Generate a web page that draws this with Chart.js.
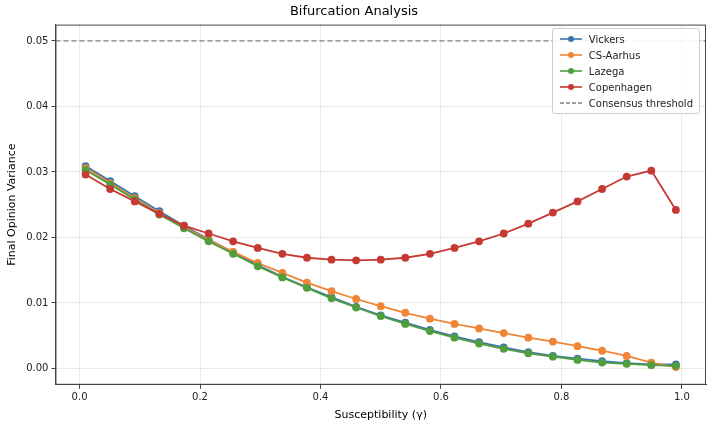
<!DOCTYPE html>
<html>
<head>
<meta charset="utf-8">
<script src="https://cdn.jsdelivr.net/npm/chart.js@4/dist/chart.umd.min.js"></script>
<style>
  body { margin: 0; background: #fff; font-family: "DejaVu Sans", sans-serif; }
  #wrap { position: relative; width: 712px; height: 424px; }
  #legend { position: absolute; right: 12px; top: 28px; background: rgba(255,255,255,0.9);
    border: 1px solid #ccc; border-radius: 3px; padding: 2px 6px; font-size: 10px; color: #222; }
  #legend div { display: flex; align-items: center; height: 16px; }
  #legend svg { margin-right: 6px; }
</style>
</head>
<body>
<div id="wrap"><canvas id="c" width="712" height="424"></canvas><div id="legend"></div></div>
<script>
// susceptibility grid (25 points)
const gammas = [0.01,0.0508,0.0917,0.1325,0.1733,0.2142,0.255,0.2958,0.3367,0.3775,0.4183,0.4592,0.5,
  0.5408,0.5817,0.6225,0.6633,0.7042,0.745,0.7858,0.8267,0.8675,0.9083,0.9492,0.99];
const vickers = [0.0309,0.0286,0.0263,0.0240,0.0218,0.0197,0.0177,0.0158,0.0140,0.0124,0.0109,0.0094,0.0081,
  0.0070,0.0059,0.0049,0.0040,0.0032,0.0025,0.0019,0.0015,0.0011,0.0008,0.0006,0.0006];
const csAarhus = [0.0306,0.0283,0.0260,0.0237,0.0216,0.0196,0.0178,0.0161,0.0146,0.0131,0.0118,0.0106,0.0095,
  0.0085,0.0076,0.0068,0.0061,0.0054,0.0047,0.0041,0.0034,0.0027,0.0019,0.0009,0.0002];
const lazega = [0.0303,0.0281,0.0258,0.0235,0.0214,0.0194,0.0175,0.0156,0.0139,0.0123,0.0107,0.0093,0.0080,
  0.0068,0.0057,0.0047,0.0038,0.0030,0.0023,0.0018,0.0013,0.0009,0.0007,0.0005,0.0004];
const copenhagen = [0.0296,0.0274,0.0255,0.0236,0.0218,0.0206,0.0194,0.0184,0.0175,0.0169,0.0166,0.0165,0.0166,
  0.0169,0.0175,0.0184,0.0194,0.0206,0.0221,0.0238,0.0255,0.0274,0.0293,0.0302,0.0242];
const threshold = 0.05;

const series = [
  { label: 'Vickers', data: vickers, color: '#3b75af' },
  { label: 'CS-Aarhus', data: csAarhus, color: '#ef8636' },
  { label: 'Lazega', data: lazega, color: '#519e3e' },
  { label: 'Copenhagen', data: copenhagen, color: '#c53a32' }
];

// later series on top, like matplotlib
const datasets = series.map((s, k) => ({
  label: s.label,
  data: gammas.map((g, i) => ({ x: g, y: s.data[i] })),
  borderColor: s.color, backgroundColor: s.color,
  borderWidth: 1.8, pointRadius: 3, pointHoverRadius: 3, order: 10 - k
}));
datasets.push({
  label: 'Consensus threshold',
  data: [{ x: -0.04, y: threshold }, { x: 1.04, y: threshold }],
  borderColor: '#808080', borderWidth: 1.2, borderDash: [5, 3], pointRadius: 0, order: 1
});

const frame = {
  id: 'frame',
  afterDraw(chart) {
    const { ctx, chartArea: a } = chart;
    ctx.save();
    ctx.strokeStyle = '#444';
    ctx.lineWidth = 1;
    ctx.strokeRect(a.left + 0.5, a.top + 0.5, a.right - a.left - 1, a.bottom - a.top - 1);
    ctx.restore();
  }
};

const font = { family: '"DejaVu Sans", sans-serif', size: 10 };
new Chart(document.getElementById('c'), {
  type: 'line',
  data: { datasets },
  plugins: [frame],
  options: {
    responsive: false, animation: false,
    layout: { padding: { left: 2, right: 6, top: 0, bottom: 0 } },
    plugins: {
      legend: { display: false },
      tooltip: { enabled: false },
      title: { display: true, text: 'Bifurcation Analysis', color: '#000',
        font: { family: font.family, size: 13, weight: 'normal' }, padding: { top: 4, bottom: 5 } }
    },
    scales: {
      x: { type: 'linear', min: -0.04, max: 1.04,
        afterBuildTicks: ax => { ax.ticks = [0, 0.2, 0.4, 0.6, 0.8, 1].map(v => ({ value: v })); },
        ticks: { font, color: '#222', callback: v => v.toFixed(1) },
        grid: { color: 'rgba(0,0,0,0.08)', tickColor: '#444', tickLength: 4 },
        border: { color: '#444' },
        title: { display: true, text: 'Susceptibility (γ)', font: { family: font.family, size: 11 }, color: '#000', padding: 2 } },
      y: { min: -0.0025, max: 0.0525,
        afterBuildTicks: ax => { ax.ticks = [0, 0.01, 0.02, 0.03, 0.04, 0.05].map(v => ({ value: v })); },
        ticks: { font, color: '#222', callback: v => v.toFixed(2) },
        grid: { color: 'rgba(0,0,0,0.08)', tickColor: '#444', tickLength: 4 },
        border: { color: '#444' },
        title: { display: true, text: 'Final Opinion Variance', font: { family: font.family, size: 11 }, color: '#000', padding: 4 } }
    }
  }
});

const leg = document.getElementById('legend');
datasets.forEach(d => {
  const dash = d.borderDash ? 'stroke-dasharray="4,2"' : '';
  const dot = d.pointRadius ? `<circle cx="12" cy="5" r="3" fill="${d.borderColor}"/>` : '';
  leg.insertAdjacentHTML('beforeend',
    `<div><svg width="24" height="10"><line x1="1" y1="5" x2="23" y2="5" stroke="${d.borderColor}" stroke-width="1.6" ${dash}/>${dot}</svg>${d.label}</div>`);
});
</script>
</body>
</html>
